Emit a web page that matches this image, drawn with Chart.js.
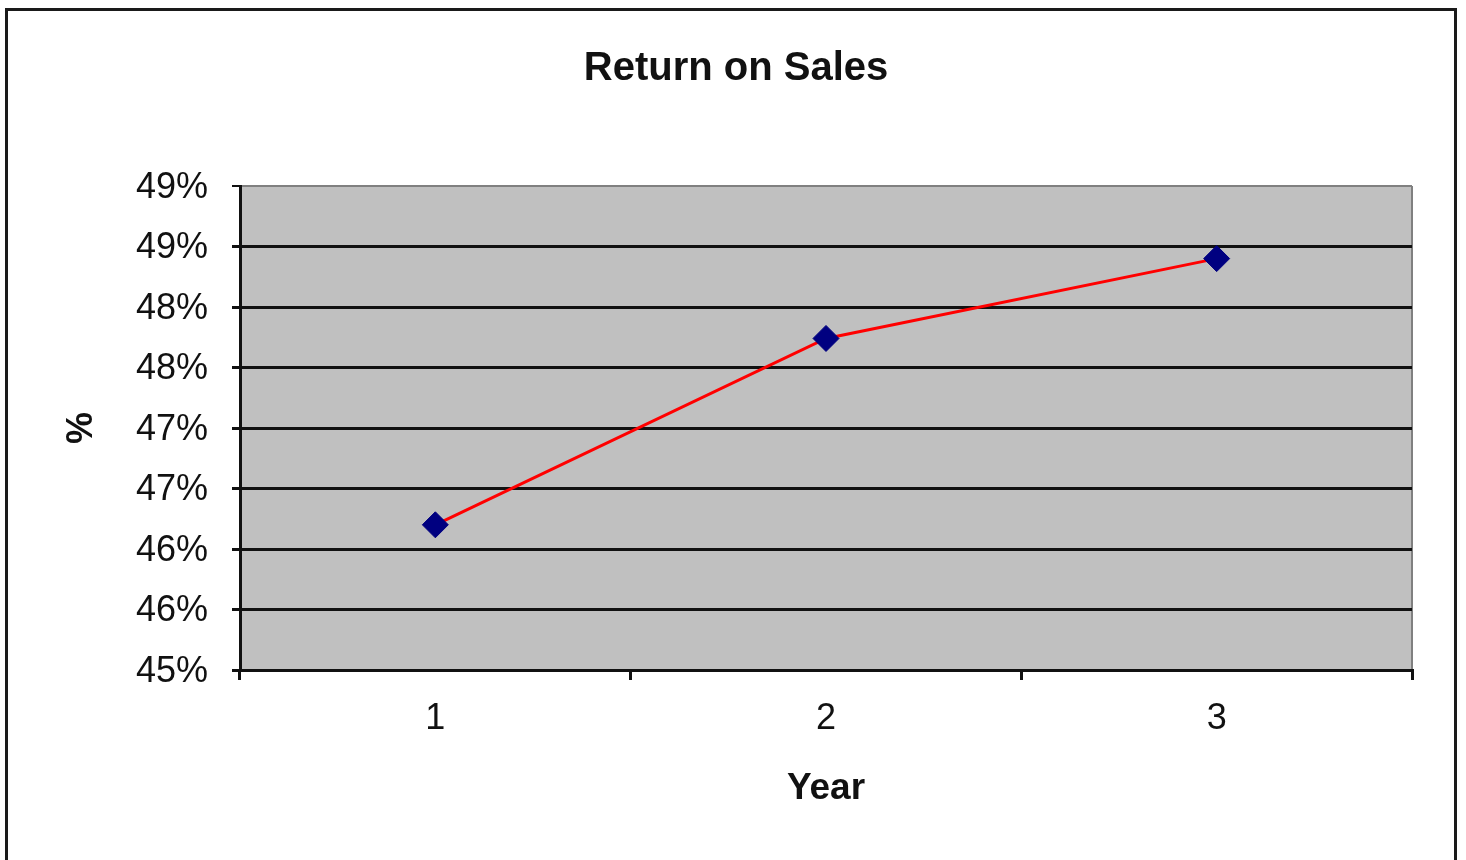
<!DOCTYPE html>
<html>
<head>
<meta charset="utf-8">
<title>Return on Sales</title>
<script src="https://cdn.jsdelivr.net/npm/chart.js@4.4.1/dist/chart.umd.min.js"></script>
<style>
    html, body {
        margin: 0;
        padding: 0;
        background: #fff;
        overflow: hidden;
    }
    #frame {
        position: absolute;
        left: 5px;
        top: 8px;
        width: 1452px;
        height: 900px;
        box-sizing: border-box;
        border: 3px solid #1a1a1a;
    }
    #rosChart {
        position: absolute;
        left: 0;
        top: 0;
    }
</style>
</head>
<body>
<div id="frame"></div>
<canvas id="rosChart" width="1466" height="860"></canvas>
<script>
const years = ['1', '2', '3'];
const returnOnSales = [46.2, 47.74, 48.4];
const yTickLabels = ['45%', '46%', '46%', '47%', '47%', '48%', '48%', '49%', '49%'];

const plotColor = '#C0C0C0';
const plotEdgeColor = '#808080';
const inkColor = '#111111';
const fontFamily = '"Liberation Sans", Arial, sans-serif';

// Gray plot area with a gray right edge, drawn under grid and line.
const plotBackground = {
    id: 'plotBackground',
    beforeDraw(chart) {
        const { ctx, chartArea } = chart;
        ctx.save();
        ctx.fillStyle = plotColor;
        ctx.fillRect(chartArea.left, chartArea.top, chartArea.right - chartArea.left, chartArea.bottom - chartArea.top);
        ctx.strokeStyle = plotEdgeColor;
        ctx.lineWidth = 2;
        ctx.beginPath();
        ctx.moveTo(chartArea.right, chartArea.top);
        ctx.lineTo(chartArea.right, chartArea.bottom);
        ctx.stroke();
        ctx.restore();
    },
};

function renderChart() {
    const canvas = document.getElementById('rosChart');

    new Chart(canvas, {
        type: 'line',
        data: {
            labels: years,
            datasets: [{
                data: returnOnSales,
                borderColor: '#FF0000',
                borderWidth: 3,
                pointStyle: 'rectRot',
                pointRadius: 13,
                pointHoverRadius: 13,
                pointBackgroundColor: '#000080',
                pointBorderColor: '#000080',
                pointBorderWidth: 1,
                tension: 0,
            }],
        },
        options: {
            responsive: false,
            animation: false,
            layout: {
                padding: { left: 60, right: 54, top: 0, bottom: 0 },
            },
            plugins: {
                legend: { display: false },
                tooltip: { enabled: false },
                title: {
                    display: true,
                    text: 'Return on Sales',
                    color: inkColor,
                    font: { family: fontFamily, size: 40, weight: 'bold' },
                    padding: { top: 45, bottom: 93 },
                },
            },
            scales: {
                x: {
                    offset: true,
                    afterFit(scale) {
                        scale.height = 190;
                    },
                    grid: {
                        offset: true,
                        drawOnChartArea: false,
                        color: inkColor,
                        lineWidth: 3,
                        tickLength: 10,
                    },
                    border: { color: inkColor, width: 3 },
                    ticks: {
                        color: inkColor,
                        padding: 17,
                        font: { family: fontFamily, size: 36 },
                    },
                    title: {
                        display: true,
                        text: 'Year',
                        color: inkColor,
                        font: { family: fontFamily, size: 37, weight: 'bold' },
                        padding: { top: 0, bottom: 49 },
                    },
                },
                y: {
                    min: 45,
                    max: 49,
                    afterFit(scale) {
                        scale.width = 180;
                    },
                    grid: {
                        color: (ctx) => (ctx.index === yTickLabels.length - 1 ? plotEdgeColor : inkColor),
                        lineWidth: (ctx) => (ctx.index === yTickLabels.length - 1 ? 2 : 3),
                        tickColor: inkColor,
                        tickLength: 8,
                    },
                    border: { color: inkColor, width: 3 },
                    ticks: {
                        stepSize: 0.5,
                        color: inkColor,
                        padding: 24,
                        labelOffset: 2,
                        font: { family: fontFamily, size: 36 },
                        callback: (value, index) => yTickLabels[index],
                    },
                    title: {
                        display: true,
                        text: '%',
                        color: inkColor,
                        font: { family: fontFamily, size: 36, weight: 'bold' },
                        padding: 0,
                    },
                },
            },
        },
        plugins: [plotBackground],
    });
}

document.addEventListener('DOMContentLoaded', renderChart);
</script>
</body>
</html>
